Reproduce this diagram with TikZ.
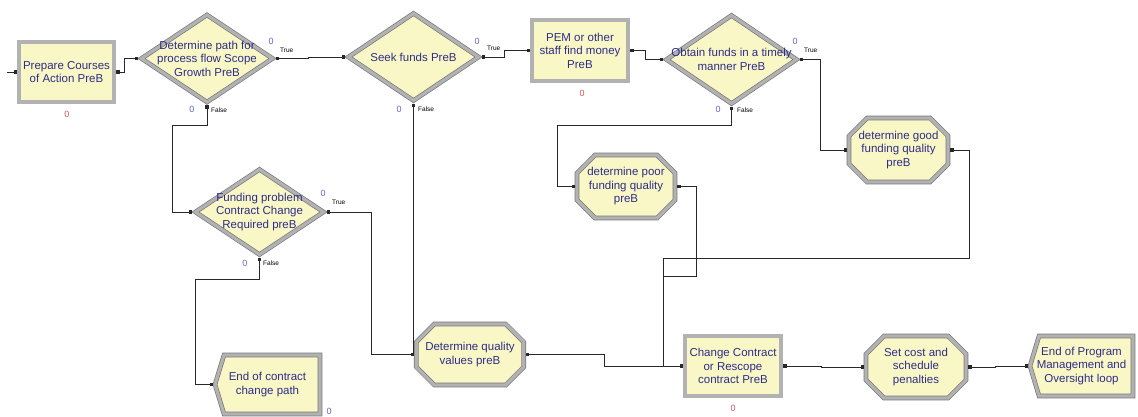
\documentclass[tikz,border=0pt]{standalone}
\usepackage{fontspec}
\setmainfont{Liberation Sans}
\usetikzlibrary{shapes.geometric,shapes.misc,arrows.meta,backgrounds,calc}
\definecolor{boxfill}{RGB}{250,247,198}
\definecolor{bordlight}{RGB}{178,178,178}
\definecolor{borddark}{RGB}{120,120,120}
\definecolor{txtblue}{RGB}{45,45,135}
\definecolor{zred}{RGB}{205,90,90}
\definecolor{zblue}{RGB}{100,100,200}
\definecolor{linegray}{RGB}{40,40,40}
\tikzset{
  txt/.style={text=txtblue, font=\fontsize{11.5}{13.5}\selectfont, align=center, inner sep=0pt},
  border/.style={draw=borddark, line width=0.7pt, double=bordlight, double distance=3.2pt, fill=boxfill},
  proc/.style={txt, border, rectangle, outer sep=2.3pt},
  assign/.style={txt, border, chamfered rectangle, chamfered rectangle xsep=9pt, chamfered rectangle ysep=9pt, outer sep=2.3pt},
  dec/.style={border, diamond, inner sep=0pt, outer sep=2.3pt},
  disp/.style={txt, rectangle, draw=none, outer sep=0pt},
  conn/.style={draw=linegray, line width=0.9pt, {Square[length=3.2pt,width=3.2pt]}-{Square[length=3.2pt,width=3.2pt]}},
  inconn/.style={draw=linegray, line width=0.9pt, -{Square[length=3.2pt,width=3.2pt]}},
  zr/.style={text=zred, font=\fontsize{9}{9}\selectfont, inner sep=0pt},
  zb/.style={text=zblue, font=\fontsize{9}{9}\selectfont, inner sep=0pt},
  tf/.style={text=black, font=\fontsize{6.5}{6.5}\selectfont, inner sep=0pt, anchor=west}
}
\begin{document}
\begin{tikzpicture}[x=1pt,y=-1pt]
\useasboundingbox (0,0) rectangle (1138,416);

% Process modules
\node[proc, minimum width=95, minimum height=60] (prep) at (66.5,72) {Prepare Courses\\of Action PreB};
\node[proc, minimum width=96, minimum height=61] (pem) at (580,50.5) {PEM or other\\staff find money\\PreB};
\node[proc, minimum width=96, minimum height=60] (change) at (733,366) {Change Contract\\or Rescope\\contract PreB};

% Decide modules
\node[dec, minimum width=133, minimum height=89, label={[txt]center:{Determine path for\\process flow Scope\\Growth PreB}}] (dec1) at (207,58.5) {};
\node[dec, minimum width=132, minimum height=89, label={[txt]center:{Seek funds PreB}}] (seek) at (413.5,57) {};
\node[dec, minimum width=132, minimum height=90, label={[txt]center:{Obtain funds in a timely\\manner PreB}}] (obtain) at (731.5,59.5) {};
\node[dec, minimum width=130, minimum height=87, label={[txt]center:{Funding problem\\Contract Change\\Required preB}}] (fund) at (259.5,212) {};

% Assign modules
\node[assign, minimum width=99, minimum height=64] (good) at (898.5,150) {determine good\\funding quality\\preB};
\node[assign, minimum width=98, minimum height=63] (poor) at (626,186.5) {determine poor\\funding quality\\preB};
\node[assign, minimum width=100, minimum height=61] (quality) at (470,354.5) {Determine quality\\values preB};
\node[assign, minimum width=100, minimum height=62] (setcost) at (916,367) {Set cost and\\schedule\\penalties};

% Dispose modules
\node[disp, minimum width=105, minimum height=59] (endc) at (267.5,384.5) {End of contract\\change path};
\node[disp, minimum width=103, minimum height=60] (endp) at (1081.5,366) {End of Program\\Management and\\Oversight loop};
\begin{scope}[on background layer]
  \foreach \n in {endc,endp}{
    \draw[border] (\n.west) -- ([xshift=9pt]\n.north west) -- (\n.north east) -- (\n.south east) -- ([xshift=9pt]\n.south west) -- cycle;
  }
\end{scope}

% Counters
\node[zr] (z1) at (67,114) {0};
\node[zr] (z2) at (582,93) {0};
\node[zr] (z3) at (733,408) {0};
\node[zb] (z4) at (271,41) {0};
\node[zb] (z5) at (192,109) {0};
\node[zb] (z6) at (477,41) {0};
\node[zb] (z7) at (399,109) {0};
\node[zb] (z8) at (795,41) {0};
\node[zb] (z9) at (718,109) {0};
\node[zb] (z10) at (323,193) {0};
\node[zb] (z11) at (245,263) {0};
\node[zb] (z12) at (329,411) {0};

% True / False
\node[tf] (t1) at (280,50) {True};
\node[tf] (t2) at (487,48) {True};
\node[tf] (t3) at (804,50) {True};
\node[tf] (t4) at (332,202) {True};
\node[tf] (f1) at (211,110) {False};
\node[tf] (f2) at (418,109) {False};
\node[tf] (f3) at (737,110) {False};
\node[tf] (f4) at (263,263) {False};

% Connectors
\coordinate (in0) at (7,72);
\draw[inconn] (in0) -- (prep.west);
\draw[conn] (prep.east) -- ++(8,0) |- (dec1.west);
\draw[conn] (dec1.east) -- ++(33,0) |- (seek.west);
\draw[conn] (seek.east) -- ++(23,0) |- (pem.west);
\draw[conn] (pem.east) -- ++(15,0) |- (obtain.west);
\draw[conn] (obtain.east) -- ++(21,0) |- (good.west);
\draw[conn] (obtain.south) -- ++(0,19) -| ([xshift=-17]poor.west) -- (poor.west);
\draw[conn] (dec1.south) -- ++(0,20) -| ([xshift=-20]fund.west) -- (fund.west);
\draw[conn] (seek.south) |- (quality.west);
\draw[conn] (fund.east) -- ++(45,0) |- (quality.west);
\draw[conn] (fund.south) -- ++(0,22) -| ([xshift=-20]endc.west) -- ([xshift=-2.3]endc.west);
\draw[conn] (quality.east) -- ++(78,0) |- (change.west);
\draw[conn] (poor.east) -- ++(19,0) -- ++(0,89.5) -| ([xshift=-19]change.west) -- (change.west);
\draw[conn] (good.east) -- ++(19,0) -- ++(0,108) -| ([xshift=-19]change.west) -- (change.west);
\draw[conn] (change.east) -- ++(38,0) |- (setcost.west);
\draw[conn] (setcost.east) -- ++(27,0) |- ([xshift=-2.3]endp.west);
\end{tikzpicture}
\end{document}
